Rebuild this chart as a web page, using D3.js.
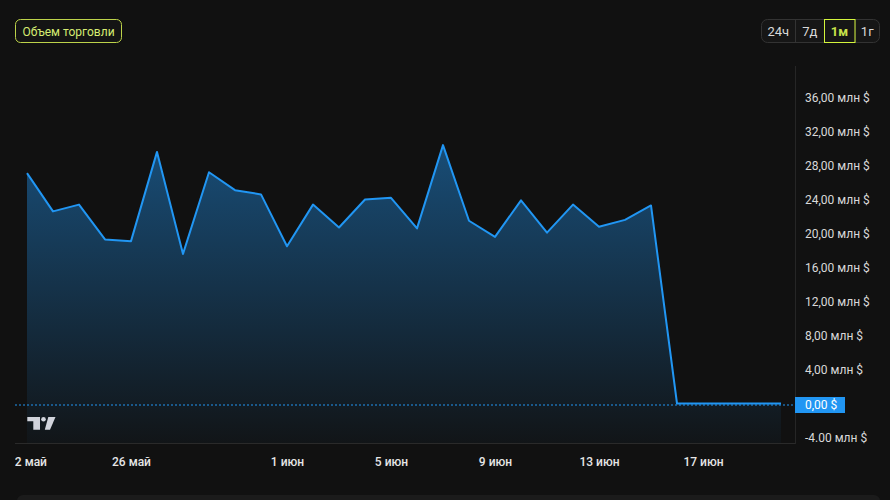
<!DOCTYPE html>
<html><head><meta charset="utf-8">
<script src="https://cdn.jsdelivr.net/npm/d3@7"></script>
<style>
html,body{margin:0;padding:0;background:#111111;}
svg{display:block;font-family:Roboto,"Noto Sans",sans-serif;}
</style></head>
<body>
<svg id="c" width="890" height="500"></svg>
<script>
// ---- data ----
const dates = ["2024-05-22","2024-05-23","2024-05-24","2024-05-25","2024-05-26","2024-05-27","2024-05-28","2024-05-29","2024-05-30","2024-05-31",
  "2024-06-01","2024-06-02","2024-06-03","2024-06-04","2024-06-05","2024-06-06","2024-06-07","2024-06-08","2024-06-09","2024-06-10",
  "2024-06-11","2024-06-12","2024-06-13","2024-06-14","2024-06-15","2024-06-16","2024-06-17","2024-06-18","2024-06-19","2024-06-20"];
const volumes = [27.1,22.6,23.4,19.3,19.1,29.6,17.6,27.2,25.1,24.6,
  18.5,23.4,20.7,24.0,24.2,20.6,30.4,21.5,19.6,23.9,
  20.1,23.4,20.8,21.6,23.3,0,0,0,0,0]; // млн $
const yTickValues = [-4,4,8,12,16,20,24,28,32,36];
const yTickLabels = ["-4.00 млн $","4,00 млн $","8,00 млн $","12,00 млн $","16,00 млн $","20,00 млн $","24,00 млн $","28,00 млн $","32,00 млн $","36,00 млн $"];
const xTickDates = ["2024-05-22","2024-05-26","2024-06-01","2024-06-05","2024-06-09","2024-06-13","2024-06-17"];
const monthNames = ["янв","фев","мар","апр","май","июн","июл","авг","сен","окт","ноя","дек"];
const ranges = ["24ч","7д","1м","1г"];
const activeRange = "1м";
const title = "Объем торговли";
const lastLabel = "0,00 $";

// ---- setup ----
const svg = d3.select("#c");
const parse = d3.timeParse("%Y-%m-%d");
const data = dates.map((d,i)=>({date:parse(d), v:volumes[i]}));
const paneL = 15, paneR = 795, paneT = 66, paneB = 443;

const x = d3.scaleTime().domain([parse(dates[0]), parse(dates[dates.length-1])]).range([27, 781]);
const y = d3.scaleLinear().domain([0, 36]).range([403.5, 97.5]);

const defs = svg.append("defs");
defs.append("clipPath").attr("id","pane").append("rect")
  .attr("x",paneL).attr("y",paneT).attr("width",paneR-paneL).attr("height",paneB-paneT);
defs.append("clipPath").attr("id","timeclip").append("rect")
  .attr("x",paneL).attr("y",paneB).attr("width",paneR-paneL).attr("height",40);

const maxV = d3.max(volumes);
const grad = defs.append("linearGradient").attr("id","ag")
  .attr("gradientUnits","userSpaceOnUse").attr("x1",0).attr("x2",0)
  .attr("y1",y(maxV)).attr("y2",paneB);
grad.append("stop").attr("offset","0%").attr("stop-color","#2196f3").attr("stop-opacity",0.45);
grad.append("stop").attr("offset","100%").attr("stop-color","#2196f3").attr("stop-opacity",0.03);

const g = svg.append("g").attr("clip-path","url(#pane)");

// area
g.append("path").datum(data)
  .attr("d", d3.area().x(d=>x(d.date)).y0(paneB).y1(d=>y(d.v)))
  .attr("fill","url(#ag)");

// last value dotted line
svg.append("line").attr("x1",paneL).attr("x2",paneR).attr("y1",y(0)+1.5).attr("y2",y(0)+1.5)
  .attr("stroke","#2196f3").attr("stroke-width",1).attr("stroke-dasharray","2,2");

// line
g.append("path").datum(data)
  .attr("d", d3.line().x(d=>x(d.date)).y(d=>y(d.v)))
  .attr("fill","none").attr("stroke","#2196f3").attr("stroke-width",2)
  .attr("stroke-linejoin","round");

// borders
svg.append("line").attr("x1",paneL).attr("x2",paneR).attr("y1",paneB+0.5).attr("y2",paneB+0.5)
  .attr("stroke","#2a2a2a");
svg.append("line").attr("x1",paneR+0.5).attr("x2",paneR+0.5).attr("y1",paneT).attr("y2",paneB+1)
  .attr("stroke","#262626");

// y axis labels
const yAxis = d3.axisRight(y).tickValues(yTickValues).tickSize(0).tickPadding(0)
  .tickFormat((d,i)=>yTickLabels[i]);
const ya = svg.append("g").attr("transform",`translate(${paneR+10},0)`).call(yAxis);
ya.select(".domain").remove();
ya.selectAll("text").attr("fill","#d9d9d9").attr("font-size",12).attr("font-family","Roboto,sans-serif")
  .attr("dy","0.35em");

// last value label
svg.append("rect").attr("x",paneR).attr("y",y(0)-6.5).attr("width",50).attr("height",16).attr("fill","#2196f3");
svg.append("text").attr("x",paneR+10).attr("y",y(0)+1.5).attr("dy","0.35em")
  .attr("fill","#ffffff").attr("font-size",12).text(lastLabel);

// x axis labels
const xAxis = d3.axisBottom(x).tickValues(xTickDates.map(parse)).tickSize(0).tickPadding(0)
  .tickFormat(d=>d.getDate()+" "+monthNames[d.getMonth()]);
const xa = svg.append("g").attr("clip-path","url(#timeclip)").append("g")
  .attr("transform",`translate(0,${paneB+14})`).call(xAxis);
xa.select(".domain").remove();
xa.selectAll("text").attr("fill","#e6e6e6").attr("font-size",12).attr("font-family","Roboto,sans-serif")
  .attr("font-weight",500);

// TradingView logo
const lg = svg.append("g").attr("fill","#d1d4dc");
lg.append("path").attr("d","M27.3,417 H40 V429.7 H33.3 V421.3 H27.3 Z");
lg.append("circle").attr("cx",43.5).attr("cy",419.3).attr("r",2.3);
lg.append("path").attr("d","M48.3,417 H55.5 L50,429.7 H44.8 Z");

// title button
svg.append("rect").attr("x",15.5).attr("y",19.5).attr("width",106).attr("height",23).attr("rx",5)
  .attr("fill","#141414").attr("stroke","#bdd34a").attr("stroke-width",1);
svg.append("text").attr("x",68.5).attr("y",31.5).attr("dy","0.35em").attr("text-anchor","middle")
  .attr("fill","#d6ec72").attr("font-size",12).text(title);

// range buttons
const btnEdges = [761,795.5,824,855,879.5];
svg.append("rect").attr("x",761.5).attr("y",19.5).attr("width",118).attr("height",23).attr("rx",6)
  .attr("fill","#161616").attr("stroke","#333333");
[795.5,855].forEach(xx=>svg.append("line").attr("x1",xx).attr("x2",xx).attr("y1",20).attr("y2",42).attr("stroke","#333333"));
ranges.forEach((r,i)=>{
  const x0=btnEdges[i], x1=btnEdges[i+1];
  const active = r===activeRange;
  if(active){
    svg.append("rect").attr("x",x0+0.5).attr("y",19.5).attr("width",x1-x0-0.5).attr("height",23)
      .attr("fill","#161616").attr("stroke","#d4f53c");
  }
  svg.append("text").attr("x",(x0+x1)/2).attr("y",31.5).attr("dy","0.35em").attr("text-anchor","middle")
    .attr("font-size",13).attr("font-weight",active?700:400)
    .attr("fill",active?"#c9e24a":"#d9d9d9").text(r);
});

// bottom strip
svg.append("rect").attr("x",17).attr("y",495).attr("width",863).attr("height",12).attr("rx",6).attr("fill","#1b1b1b");
</script>
</body></html>
